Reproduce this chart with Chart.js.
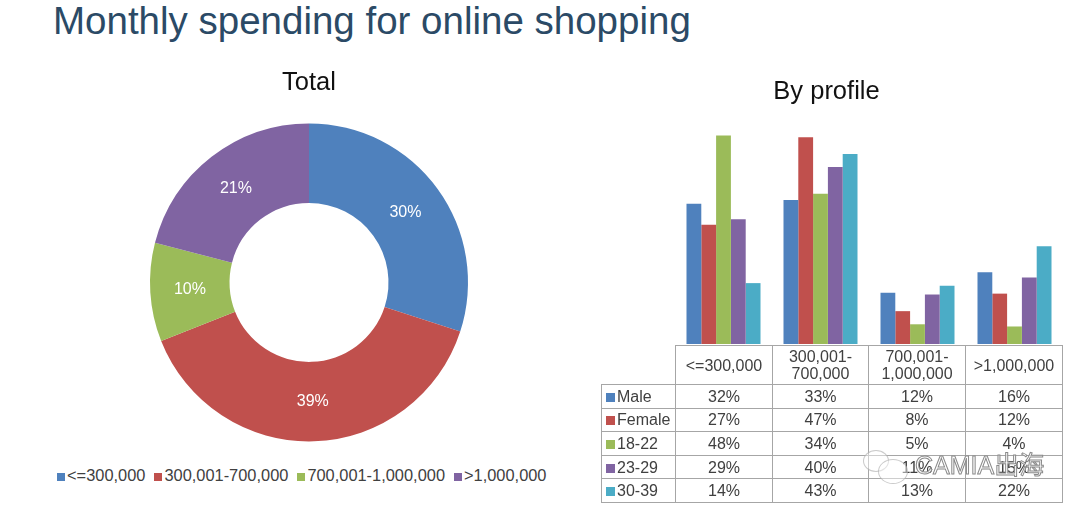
<!DOCTYPE html>
<html>
<head>
<meta charset="utf-8">
<script src="https://cdn.jsdelivr.net/npm/chart.js@4"></script>
<style>
html, body { margin: 0; padding: 0; background: #fff; width: 1080px; height: 513px; overflow: hidden; }
body { font-family: "Liberation Sans", Arial, sans-serif; position: relative; }
#heading { position: absolute; left: 53px; top: -2px; font-size: 38.5px; line-height: 46px; color: #2b4a66; white-space: nowrap; }
#pieBox { position: absolute; left: 0; top: 68px; width: 618px; height: 390px; }
#barBox { position: absolute; left: 590px; top: 77px; width: 473px; height: 267px; }
#pieLegend { position: absolute; left: 57px; top: 465px; display: flex; font-size: 16.4px; line-height: 20px; color: #404040; white-space: nowrap; }
#pieLegend span.item { margin-right: 9px; }
.swatch { display: inline-block; width: 8px; height: 8px; margin-right: 2px; }
#profileTable { position: absolute; left: 601px; top: 345px; border-collapse: collapse; table-layout: fixed; width: 462px; font-size: 16px; color: #404040; }
#profileTable td { border: 1px solid #a6a6a6; text-align: center; padding: 0; line-height: 17px; height: 22.6px; }
#profileTable tr:first-child td { height: 38px; }
#profileTable tr:first-child td:first-child { border: none; border-right: 1px solid #a6a6a6; border-bottom: 1px solid #a6a6a6; }
#profileTable td.name { text-align: left; padding-left: 4px; white-space: nowrap; }
#profileTable .swatch { width: 9px; height: 9px; }
#mark { position: absolute; left: 915px; top: 449px; font-size: 25px; line-height: 32px; color: rgba(255,255,255,.75); -webkit-text-stroke: 1px #8a8a8a; white-space: nowrap; font-family: "Liberation Sans", "Noto Sans CJK SC", sans-serif; }
.bubble { position: absolute; border-radius: 50%; border: 1px solid rgba(150,150,150,.5); background: rgba(255,255,255,.45); }
</style>
</head>
<body>
<div id="heading">Monthly spending for online shopping</div>
<div id="pieBox"><canvas id="pieChart"></canvas></div>
<div id="barBox"><canvas id="barChart"></canvas></div>
<div id="pieLegend"></div>
<table id="profileTable"></table>
<div class="bubble" style="left:863px;top:450px;width:24px;height:20px"></div>
<div class="bubble" style="left:878px;top:459px;width:28px;height:23px"></div>
<div id="mark">CAMIA出海</div>
<script>
const ranges = ['<=300,000', '300,001-700,000', '700,001-1,000,000', '>1,000,000']
const rangesWrapped = ['<=300,000', ['300,001-', '700,000'], ['700,001-', '1,000,000'], '>1,000,000']
const totalShare = [30, 39, 10, 21]

const profiles = ['Male', 'Female', '18-22', '23-29', '30-39']
// bar heights, the table prints them rounded
const male = [32, 32.9, 11.7, 16.4]
const female = [27.2, 47.2, 7.5, 11.5]
const age18 = [47.6, 34.3, 4.5, 4]
const age23 = [28.5, 40.4, 11.3, 15.2]
const age30 = [13.9, 43.4, 13.3, 22.3]
const profileValues = [male, female, age18, age23, age30]

const colors = ['#4f81bd', '#c0504d', '#9bbb59', '#8064a2', '#4bacc6']

Chart.defaults.font.family = '"Liberation Sans", Arial, sans-serif'
Chart.defaults.animation = false

// white percent labels in the middle of each ring slice
const sliceLabels = {
  id: 'sliceLabels',
  afterDatasetsDraw(chart) {
    const c = chart.ctx
    c.save()
    c.fillStyle = '#fff'
    c.font = '16px "Liberation Sans", Arial, sans-serif'
    c.textAlign = 'center'
    c.textBaseline = 'middle'
    chart.getDatasetMeta(0).data.forEach((arc, i) => {
      const p = arc.tooltipPosition()
      c.fillText(totalShare[i] + '%', p.x, p.y)
    })
    c.restore()
  }
}

new Chart(document.getElementById('pieChart'), {
  type: 'doughnut',
  data: {
    labels: ranges,
    datasets: [{
      data: totalShare,
      backgroundColor: colors.slice(0, 4),
      borderWidth: 0
    }]
  },
  options: {
    responsive: true,
    maintainAspectRatio: false,
    radius: 159,
    cutout: '50%',
    layout: { padding: 0 },
    plugins: {
      legend: { display: false },
      tooltip: { enabled: false },
      title: {
        display: true,
        text: 'Total',
        color: '#111',
        font: { size: 25.5, weight: 'normal' },
        padding: { top: 0, bottom: 8.2 }
      }
    }
  },
  plugins: [sliceLabels]
})

new Chart(document.getElementById('barChart'), {
  type: 'bar',
  data: {
    labels: ranges,
    datasets: profiles.map((name, i) => ({
      label: name,
      data: profileValues[i],
      backgroundColor: colors[i],
      borderWidth: 0,
      categoryPercentage: 0.763,
      barPercentage: 1
    }))
  },
  options: {
    responsive: true,
    maintainAspectRatio: false,
    layout: { padding: 0 },
    scales: {
      x: { display: false },
      y: {
        min: 0,
        max: 50,
        ticks: { display: false },
        grid: { display: false },
        border: { display: false },
        afterFit(scale) { scale.width = 85 }
      }
    },
    plugins: {
      legend: { display: false },
      tooltip: { enabled: false },
      title: {
        display: true,
        text: 'By profile',
        color: '#111',
        font: { size: 25.5, weight: 'normal' },
        padding: { top: 0, bottom: 17.4 }
      }
    }
  }
})

const legendBox = document.getElementById('pieLegend')
ranges.forEach((r, i) => {
  const item = document.createElement('span')
  item.className = 'item'
  const sw = document.createElement('span')
  sw.className = 'swatch'
  sw.style.background = colors[i]
  item.appendChild(sw)
  item.appendChild(document.createTextNode(r))
  legendBox.appendChild(item)
})

const table = document.getElementById('profileTable')
const colgroup = document.createElement('colgroup')
;[74, 97, 96, 97, 97].forEach(w => {
  const col = document.createElement('col')
  col.style.width = w + 'px'
  colgroup.appendChild(col)
})
table.appendChild(colgroup)
const head = table.insertRow()
head.insertCell()
rangesWrapped.forEach(r => {
  const td = head.insertCell()
  ;[].concat(r).forEach((part, i) => {
    if (i) td.appendChild(document.createElement('br'))
    td.appendChild(document.createTextNode(part))
  })
})
profiles.forEach((name, i) => {
  const row = table.insertRow()
  const nameCell = row.insertCell()
  nameCell.className = 'name'
  const sw = document.createElement('span')
  sw.className = 'swatch'
  sw.style.background = colors[i]
  nameCell.appendChild(sw)
  nameCell.appendChild(document.createTextNode(name))
  profileValues[i].forEach(v => { row.insertCell().textContent = Math.round(v) + '%' })
})
</script>
</body>
</html>
